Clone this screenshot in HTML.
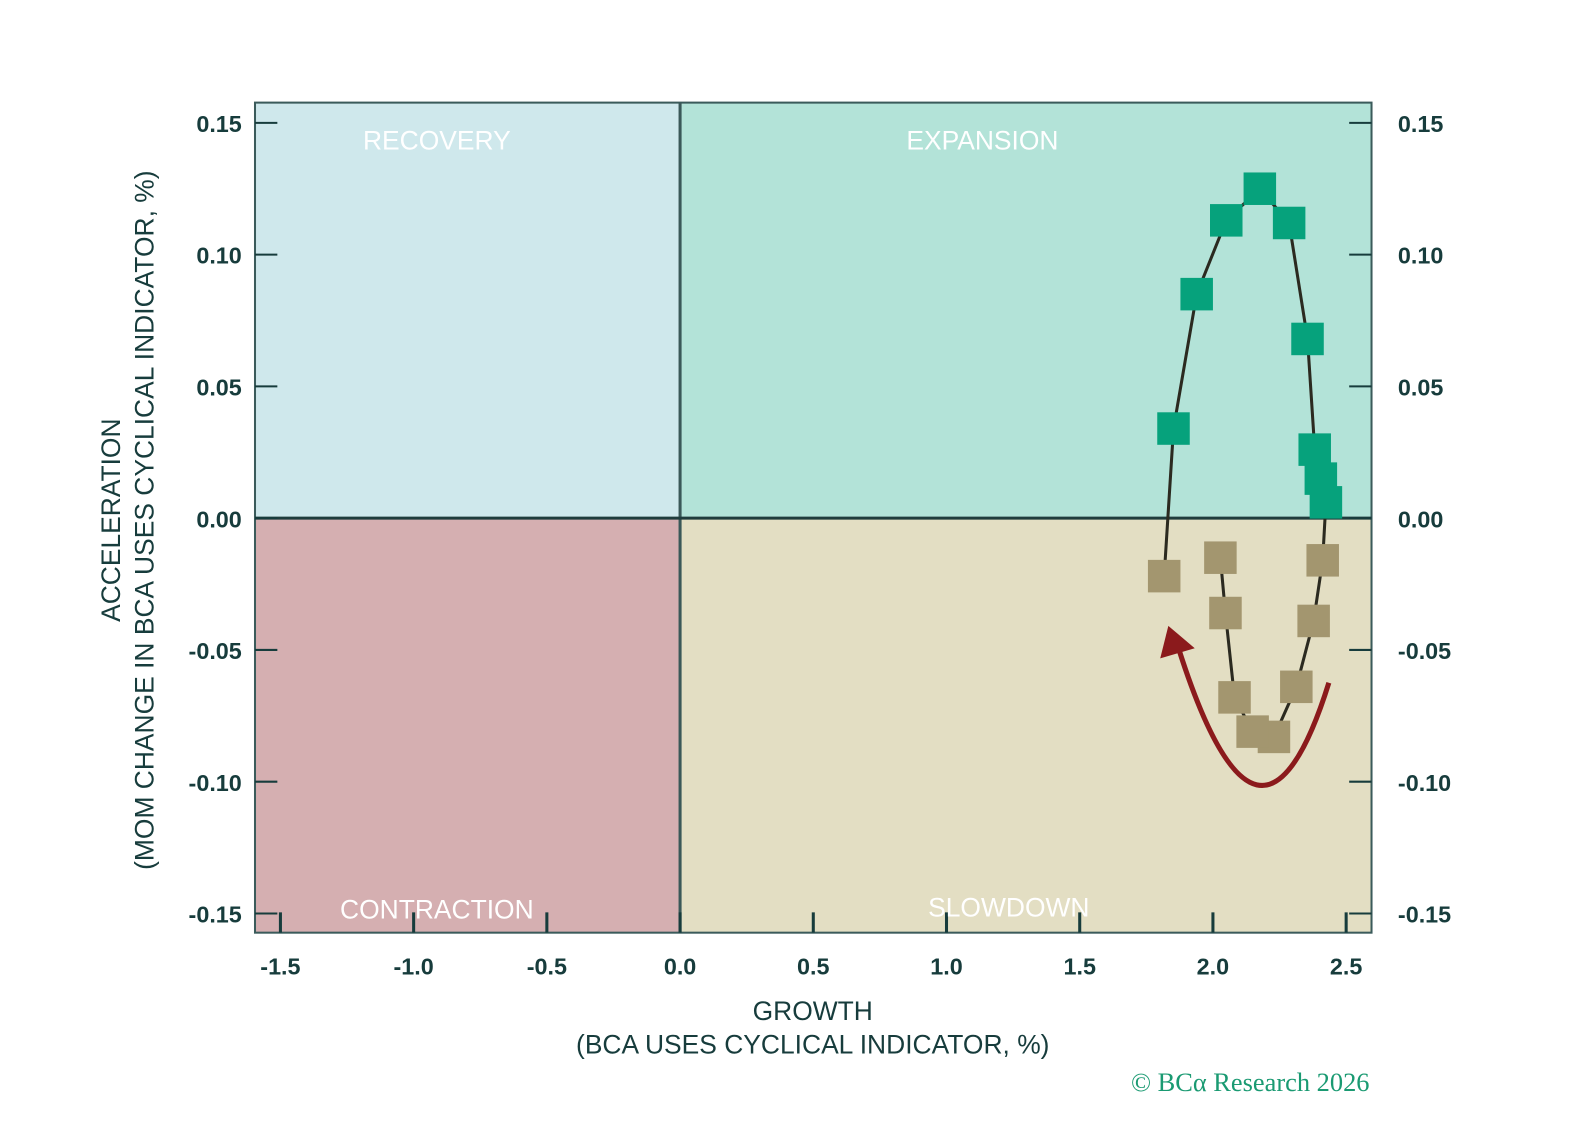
<!DOCTYPE html>
<html><head><meta charset="utf-8"><style>
html,body{margin:0;padding:0;background:#fff;}
svg{display:block;font-family:"Liberation Sans",sans-serif;}
</style></head><body>
<svg id="chart" width="1593" height="1144" viewBox="0 0 1568 1126" preserveAspectRatio="none" xmlns="http://www.w3.org/2000/svg">
<g id="bg"></g>
<g id="axes"></g>
<g id="series"></g>
<g id="labels"></g>
</svg>
<script>
const xTicks = [-1.5, -1.0, -0.5, 0.0, 0.5, 1.0, 1.5, 2.0, 2.5];
const yTicks = [0.15, 0.10, 0.05, 0.00, -0.05, -0.10, -0.15];
const growth = [1.817, 1.852, 1.939, 2.050, 2.176, 2.286, 2.355, 2.382, 2.405, 2.424, 2.412, 2.378, 2.313, 2.229, 2.149, 2.081, 2.047, 2.028];
const accel = [-0.022, 0.034, 0.085, 0.113, 0.125, 0.112, 0.068, 0.026, 0.015, 0.006, -0.016, -0.039, -0.064, -0.083, -0.081, -0.068, -0.036, -0.015];

const NS = 'http://www.w3.org/2000/svg';
const L = 251, R = 1350, T = 101, B = 918;
function sx(v){ return 669.4 + v * 262.25; }
function sy(v){ return 510 - v * 2594; }
function mk(parent, tag, attrs, text){
  const e = document.createElementNS(NS, tag);
  for (const k in attrs) e.setAttribute(k, attrs[k]);
  if (text !== undefined) e.textContent = text;
  document.getElementById(parent).appendChild(e);
  return e;
}
const x0 = sx(0), y0 = sy(0);
let q;
q = mk('bg','rect',{x:L,y:T,width:x0-L,height:y0-T,fill:'#cfe8ec'});


q = mk('bg','rect',{x:x0,y:T,width:R-x0,height:y0-T,fill:'#b3e3d8'});


q = mk('bg','rect',{x:L,y:y0,width:x0-L,height:B-y0,fill:'#d5afb1'});


q = mk('bg','rect',{x:x0,y:y0,width:R-x0,height:B-y0,fill:'#e3dec3'});


q = mk('axes','rect',{x:L,y:T,width:R-L,height:B-T,fill:'none',stroke:'#3b5b5b','stroke-width':2});


q = mk('axes','line',{x1:x0,y1:T,x2:x0,y2:B,stroke:'#3a5858','stroke-width':3});


q = mk('axes','line',{x1:L,y1:y0,x2:R,y2:y0,stroke:'#1f3c3c','stroke-width':3});



const tc = '#173c3c';
yTicks.forEach(v => {
  const y = sy(v);
  mk('axes','line',{x1:L,y1:y,x2:L+22,y2:y,stroke:tc,'stroke-width':2});
  mk('axes','line',{x1:R-22,y1:y,x2:R,y2:y,stroke:tc,'stroke-width':2});
  let t = mk('labels','text',{x:238,y:y+9,'text-anchor':'end','font-size':23,'font-weight':'bold',fill:tc}, v.toFixed(2));
  
  
  t = mk('labels','text',{x:1376,y:y+9,'text-anchor':'start','font-size':23,'font-weight':'bold',fill:tc}, v.toFixed(2));
  
  
});
xTicks.forEach(v => {
  const x = sx(v);
  mk('axes','line',{x1:x,y1:B,x2:x,y2:B-20,stroke:tc,'stroke-width':3});
  const t = mk('labels','text',{x:x,y:959,'text-anchor':'middle','font-size':23,'font-weight':'bold',fill:tc}, v.toFixed(1));
  
  
});

let d = growth.map((g,i)=>(i?'L':'M')+sx(g).toFixed(1)+','+sy(accel[i]).toFixed(1)).join(' ');
q = mk('series','path',{d:d,fill:'none',stroke:'#2b2a20','stroke-width':3});


growth.forEach((g,i)=>{
  const a = accel[i];
  const r = mk('series','rect',{x:sx(g)-16,y:sy(a)-16,width:32,height:32,fill: a>=0?'#06a27c':'#a3966f'});
  
  
});
q = mk('series','path',{d:'M1308,672 Q1240,890 1160,638',fill:'none',stroke:'#8b1a1c','stroke-width':5});


q = mk('series','polygon',{points:'1150,616 1142,648 1176,638',fill:'#8b1a1c'});



[['RECOVERY',430,147,'recovery-label'],['EXPANSION',967,147,'expansion-label'],['CONTRACTION',430,904,'contraction-label'],['SLOWDOWN',993,902,'slowdown-label']].forEach(a=>{
  const t = mk('labels','text',{x:a[1],y:a[2],'text-anchor':'middle','font-size':26,fill:'#ffffff'}, a[0]);
  
  
});
q = mk('labels','text',{x:800,y:1004,'text-anchor':'middle','font-size':26,fill:tc},'GROWTH');


q = mk('labels','text',{x:800,y:1037,'text-anchor':'middle','font-size':26,fill:tc},'(BCA USES CYCLICAL INDICATOR, %)');


q = mk('labels','text',{x:0,y:0,'text-anchor':'middle','font-size':26,fill:tc,transform:'translate(118,512) rotate(-90)'},'ACCELERATION');


q = mk('labels','text',{x:0,y:0,'text-anchor':'middle','font-size':26,fill:tc,transform:'translate(151,512) rotate(-90)'},'(MOM CHANGE IN BCA USES CYCLICAL INDICATOR, %)');


q = mk('labels','text',{x:1348,y:1074,'text-anchor':'end','font-size':26,fill:'#1a9a72','font-family':'"Liberation Serif",serif'},'© BCα Research 2026');


</script>
</body></html>
